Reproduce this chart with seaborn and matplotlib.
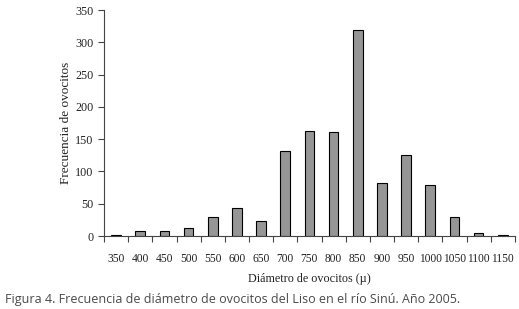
import matplotlib
matplotlib.use("Agg")
import matplotlib.pyplot as plt
import seaborn as sns
import numpy as np
import pandas as pd

diametros = ['350', '400', '450', '500', '550', '600', '650', '700', '750',
             '800', '850', '900', '950', '1000', '1050', '1100', '1150']
frecuencia = [2, 7, 7, 12, 29, 44, 24, 131, 162, 161, 319, 82, 125, 79, 29, 5, 2]

df = pd.DataFrame({'diam': diametros, 'frec': frecuencia})

sns.set_style('white')
plt.rcParams['font.family'] = ['Liberation Serif', 'DejaVu Serif']

fig = plt.figure(figsize=(5.19, 3.09), dpi=100)
ax = fig.add_axes([0.2004, 0.2362, 0.7916, 0.7314])

sns.barplot(data=df, x='diam', y='frec', order=diametros, color='#969696',
            saturation=1, edgecolor='black', linewidth=0.8, width=0.4, ax=ax)

ax.set_ylim(0, 350)
ax.set_yticks(np.arange(0, 351, 50))
ax.set_xlim(-0.5, len(diametros) - 0.5)
ax.set_xticks(np.arange(len(diametros)))
ax.set_xticklabels(diametros)
ax.set_xticks(np.arange(len(diametros) + 1) - 0.5, minor=True)
ax.tick_params(axis='x', which='major', length=0, pad=12, labelsize=8.3, colors='#222222')
ax.tick_params(axis='x', which='minor', length=4, width=0.8, direction='out', color='#444444', bottom=True)
ax.tick_params(axis='y', length=4, width=0.8, direction='out', left=True, labelsize=8.7,
               color='#444444', labelcolor='#222222')

for s in ['top', 'right']:
    ax.spines[s].set_visible(False)
for s in ['left', 'bottom']:
    ax.spines[s].set_color('#444444')
    ax.spines[s].set_linewidth(0.8)

ax.set_xlabel('Diámetro de ovocitos (µ)', fontsize=8.7, labelpad=6, color='#222222')
ax.set_ylabel('Frecuencia de ovocitos', fontsize=9.5, color='#222222')
ax.yaxis.set_label_coords(-0.077, 0.5)

fig.text(0.01, 0.018, 'Figura 4. Frecuencia de diámetro de ovocitos del Liso en el río Sinú. Año 2005.',
         fontsize=9, family=['Open Sans', 'DejaVu Sans'], color='#4a4a4a')

fig.savefig('out.png', dpi=100)
